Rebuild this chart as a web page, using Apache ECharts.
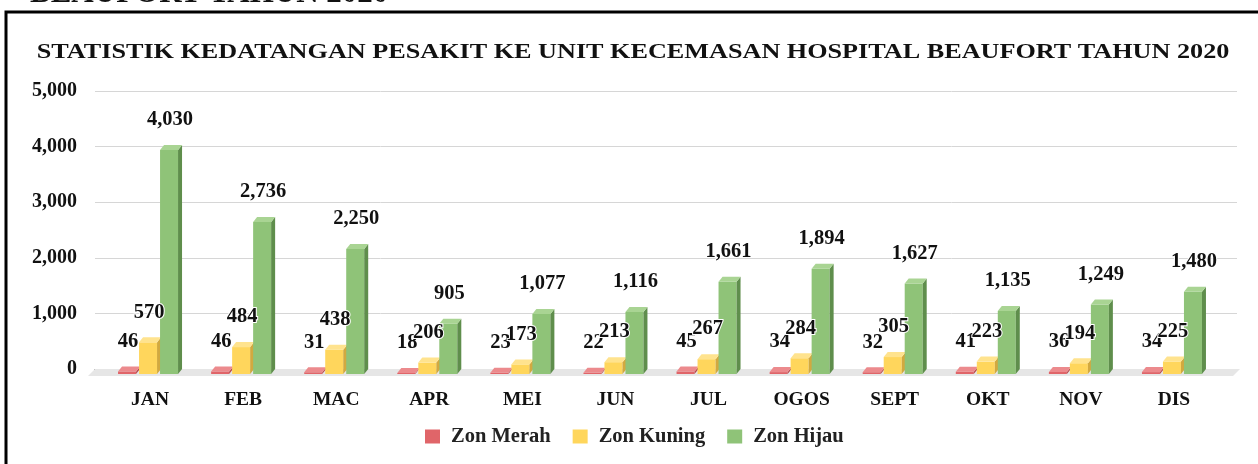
<!DOCTYPE html>
<html>
<head>
<meta charset="utf-8">
<script src="https://cdn.jsdelivr.net/npm/echarts@6/dist/echarts.min.js"></script>
<style>
html,body{margin:0;padding:0;background:#fff;}
#chart{width:1258px;height:464px;}
</style>
</head>
<body>
<div id="chart"></div>
<script>
var categories = ['JAN','FEB','MAC','APR','MEI','JUN','JUL','OGOS','SEPT','OKT','NOV','DIS'];
var zonMerah  = [46, 46, 31, 18, 23, 22, 45, 34, 32, 41, 36, 34];
var zonKuning = [570, 484, 438, 206, 173, 213, 267, 284, 305, 223, 194, 225];
var zonHijau  = [4030, 2736, 2250, 905, 1077, 1116, 1661, 1894, 1627, 1135, 1249, 1480];
var seriesNames = ['Zon Merah','Zon Kuning','Zon Hijau'];
var yTicks = [0, 1000, 2000, 3000, 4000, 5000];
var titleText = 'STATISTIK KEDATANGAN PESAKIT KE UNIT KECEMASAN HOSPITAL BEAUFORT TAHUN 2020';
var topText = 'BEAUFORT TAHUN 2020';

var FONT = '"Liberation Serif","Times New Roman",serif';
var palettes = [
  {front:'#E06569', side:'#B84B4F', top:'#EC8A8D'},
  {front:'#FFD65C', side:'#D2A93F', top:'#FFE38E'},
  {front:'#8FC378', side:'#5F8E4C', top:'#A9D493'}
];

function fmt(v){ return Number(v).toLocaleString('en-US'); }

function makeRender(k){
  var p = palettes[k];
  return function(params, api){
    var idx = api.value(0), v = api.value(1);
    var base = api.coord([idx, 0]);
    var topc = api.coord([idx, v]);
    var w = 18, dx = 4, dy = 5, off = 5;
    var x0 = base[0] - 32 + 21 * k;
    var yb = base[1] + off, yt = topc[1] + off;
    return {type:'group', children:[
      {type:'rect', shape:{x:x0, y:yt, width:w, height:Math.max(yb-yt,0.5)}, style:{fill:p.front}},
      {type:'polygon', shape:{points:[[x0+w,yb],[x0+w+dx,yb-dy],[x0+w+dx,yt-dy],[x0+w,yt]]}, style:{fill:p.side}},
      {type:'polygon', shape:{points:[[x0,yt],[x0+dx,yt-dy],[x0+w+dx,yt-dy],[x0+w,yt]]}, style:{fill:p.top}},
      {type:'text', z2:10, style:{text:fmt(v), x:x0+w/2+1, y:topc[1]-25, align:'center', verticalAlign:'middle',
        fontFamily:FONT, fontWeight:'bold', fontSize:20.5, fill:'#111', stroke:'#fff', lineWidth:2}}
    ]};
  };
}

function floorRender(params, api){
  var cs = params.coordSys;
  var yb = cs.y + cs.height;
  return {type:'polygon', shape:{points:[[cs.x, yb],[cs.x+cs.width+3, yb],[cs.x+cs.width-4, yb+7],[cs.x-7, yb+7]]},
    style:{fill:'#e6e6e6'}};
}

function toData(arr){ return arr.map(function(v,i){ return [i, v]; }); }
var seriesData = [zonMerah, zonKuning, zonHijau];

var chart = echarts.init(document.getElementById('chart'), null, {renderer:'canvas'});
var series = [{
  type:'custom', xAxisIndex:0, yAxisIndex:0, renderItem:floorRender, data:[[0,0]], z:1, silent:true
}];
seriesData.forEach(function(arr, k){
  series.push({
    name:seriesNames[k], type:'custom', xAxisIndex:1, yAxisIndex:1,
    renderItem:makeRender(k), encode:{x:0, y:1}, data:toData(arr), z:5,
    itemStyle:{color:palettes[k].front}
  });
});

chart.setOption({
  animation:false,
  backgroundColor:'#fff',
  legend:{
    data:seriesNames, bottom:12, left:420, icon:'rect', itemWidth:15, itemHeight:14, itemGap:22,
    textStyle:{fontFamily:FONT, fontWeight:'bold', fontSize:20.5, color:'#222', padding:[0,0,0,6]}
  },
  grid:[
    {left:95, right:21, top:91, bottom:95},
    {left:103.5, right:37.5, top:91, bottom:95}
  ],
  xAxis:[
    {type:'value', gridIndex:0, min:0, max:1, show:true, axisLabel:{show:false}, axisTick:{show:false},
      splitLine:{show:false}, axisLine:{show:true, lineStyle:{color:'#3a3a3a', width:1.2}}},
    {type:'category', gridIndex:1, data:categories, axisLine:{show:false}, axisTick:{show:false},
      axisLabel:{margin:21, fontFamily:FONT, fontWeight:'bold', fontSize:19.5, color:'#111'}}
  ],
  yAxis:[
    {type:'value', gridIndex:0, min:yTicks[0], max:yTicks[yTicks.length-1], interval:1000,
      axisLine:{show:false}, axisTick:{show:false},
      axisLabel:{margin:18, formatter:function(v){return fmt(v);}, fontFamily:FONT, fontWeight:'bold', fontSize:20, color:'#111'},
      splitLine:{lineStyle:{color:'#d6d6d6', width:1}}},
    {type:'value', gridIndex:1, min:yTicks[0], max:yTicks[yTicks.length-1], interval:1000, show:false, splitLine:{show:false}}
  ],
  graphic:[
    {type:'rect', shape:{x:6, y:12, width:1300, height:520}, style:{fill:null, stroke:'#000', lineWidth:3}, z:100},
    {type:'text', x:30, y:9, style:{text:topText, fontFamily:FONT, fontWeight:'bold', fontSize:31,
      fill:'#111', verticalAlign:'bottom'}, z:100},
    {type:'text', x:633, y:52, scaleX:1.19, style:{text:titleText, fontFamily:FONT, fontWeight:'bold', fontSize:22,
      fill:'#111', align:'center', verticalAlign:'middle'}, z:100}
  ],
  series:series
});
</script>
</body>
</html>
